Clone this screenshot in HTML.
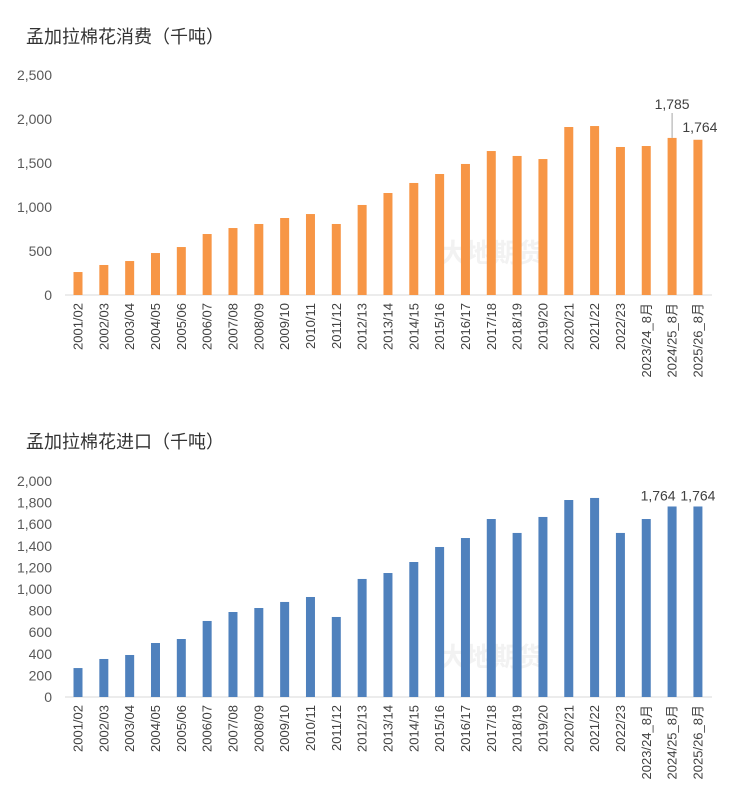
<!DOCTYPE html>
<html><head><meta charset="utf-8">
<style>
body{margin:0;background:#fff;}
svg text{font-family:"Liberation Sans","Noto Sans CJK SC",sans-serif;}
</style></head>
<body>
<svg id="c" width="732" height="806" xmlns="http://www.w3.org/2000/svg">
<text x="26" y="43" font-size="18" fill="#333">孟加拉棉花消费（千吨）</text>
<text x="26" y="448" font-size="18" fill="#333">孟加拉棉花进口（千吨）</text>
<text x="440" y="262" font-size="26" font-weight="bold" fill="#f2f2f2">大地期货</text>
<text x="440" y="666" font-size="26" font-weight="bold" fill="#f2f2f2">大地期货</text>
</svg>
<script>
const categories=["2001/02","2002/03","2003/04","2004/05","2005/06","2006/07","2007/08","2008/09","2009/10","2010/11","2011/12","2012/13","2013/14","2014/15","2015/16","2016/17","2017/18","2018/19","2019/20","2020/21","2021/22","2022/23","2023/24_8月","2024/25_8月","2025/26_8月"];
const consumption=[261,341,386,477,545,693,761,807,875,920,807,1023,1159,1273,1375,1489,1636,1580,1545,1909,1920,1682,1693,1785,1764];
const imports=[268,352,389,500,537,704,787,824,880,926,741,1093,1148,1250,1389,1472,1648,1519,1667,1824,1843,1519,1648,1764,1764];
const consTicks=[0,500,1000,1500,2000,2500];
const impTicks=[0,200,400,600,800,1000,1200,1400,1600,1800,2000];
const svg=document.getElementById('c');
const NS="http://www.w3.org/2000/svg";
function mk(t,a){const e=document.createElementNS(NS,t);for(const k in a)e.setAttribute(k,a[k]);svg.appendChild(e);return e;}
const fmt=v=>v.toLocaleString('en-US');
function chart(vals,ticks,y0,y1,maxV,color,prefix,labels){
  const ys=v=>y0-(v/maxV)*(y0-y1);
  const xs=i=>78+i*25.83;
  ticks.forEach(t=>{const e=mk('text',{x:52,y:ys(t)+5,'font-size':14,fill:'#595959','text-anchor':'end'});e.textContent=fmt(t);
    
    });
  const ax=mk('line',{x1:65,x2:712,y1:y0,y2:y0,stroke:'#d9d9d9'});
  
  
  vals.forEach((v,i)=>{
    const r=mk('rect',{x:xs(i)-4.5,y:ys(v),width:9,height:y0-ys(v),fill:color});
    
    
    const t=mk('text',{x:0,y:0,'font-size':13,fill:'#404040','text-anchor':'end',transform:`translate(${xs(i)+4.5},${y0+8}) rotate(-90)`});
    t.textContent=categories[i];
    
    
  });
  labels(xs,ys);
}
chart(consumption,consTicks,295,75,2500,'#f79646','cons',(xs,ys)=>{
  const i=23,j=24;
  const l=mk('line',{x1:xs(i),x2:xs(i),y1:113,y2:ys(consumption[i]),stroke:'#a6a6a6'});
  
  
  let t=mk('text',{x:xs(i),y:109,'font-size':14,fill:'#404040','text-anchor':'middle'});t.textContent=fmt(consumption[i]);
  
  
  t=mk('text',{x:xs(j)+2,y:132,'font-size':14,fill:'#404040','text-anchor':'middle'});t.textContent=fmt(consumption[j]);
  
  
});
chart(imports,impTicks,697,481,2000,'#4f81bd','imp',(xs,ys)=>{
  [23,24].forEach(i=>{
    const t=mk('text',{x:xs(i)-(i==23?14:0),y:ys(imports[i])-6,'font-size':14,fill:'#404040','text-anchor':'middle'});t.textContent=fmt(imports[i]);
    
    
  });
});
</script>
</body></html>
